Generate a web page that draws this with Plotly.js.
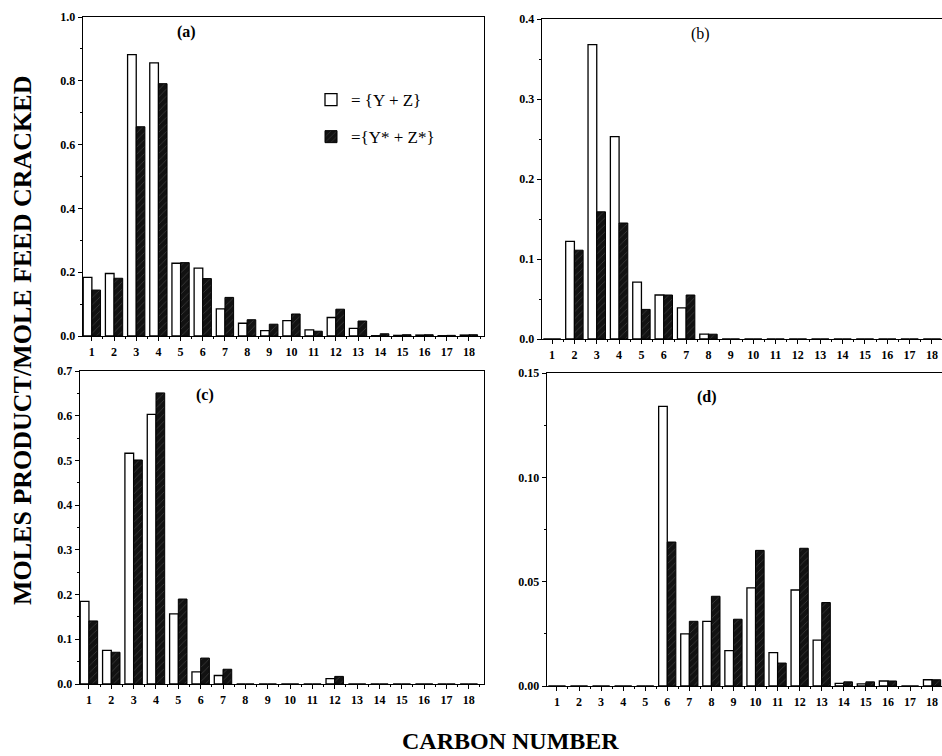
<!DOCTYPE html>
<html>
<head>
<meta charset="utf-8">
<script src="https://cdn.plot.ly/plotly-3.0.1.min.js"></script>
<style>
  html, body { margin: 0; padding: 0; background: #fff; }
  #chart { width: 942px; height: 756px; }
</style>
</head>
<body>
<div id="chart"></div>
<script>
// ---- Data ----
const carbonNumbers = [1,2,3,4,5,6,7,8,9,10,11,12,13,14,15,16,17,18];
const seriesNames = ['= {Y + Z}', '={Y* + Z*}'];

const aYZ     = [0.184,0.196,0.882,0.856,0.228,0.213,0.085,0.040,0.017,0.048,0.019,0.058,0.024,0.001,0.002,0.003,0.001,0.003];
const aYZstar = [0.144,0.181,0.656,0.791,0.230,0.180,0.121,0.051,0.037,0.069,0.015,0.084,0.047,0.007,0.004,0.004,0.002,0.004];

const bYZ     = [0,0.122,0.368,0.253,0.071,0.055,0.039,0.006,0,0,0,0,0,0,0,0,0,0];
const bYZstar = [0,0.111,0.159,0.145,0.037,0.055,0.055,0.006,0,0,0,0,0,0,0,0,0,0];

const cYZ     = [0.185,0.075,0.516,0.603,0.157,0.027,0.019,0,0,0,0,0.012,0,0,0,0,0,0];
const cYZstar = [0.141,0.071,0.501,0.651,0.190,0.058,0.033,0,0,0,0,0.017,0,0,0,0,0,0];

const dYZ     = [0,0,0,0,0,0.134,0.025,0.031,0.017,0.047,0.016,0.046,0.022,0.0013,0.001,0.0024,0,0.003];
const dYZstar = [0,0,0,0,0,0.069,0.031,0.043,0.032,0.065,0.011,0.066,0.040,0.002,0.002,0.0024,0,0.003];

const panelLabels = ['(a)', '(b)', '(c)', '(d)'];
const yTitle = 'MOLES PRODUCT/MOLE FEED CRACKED';
const xTitle = 'CARBON NUMBER';

// ---- Styling ----
const SERIF = 'Liberation Serif, Times New Roman, serif';
const W = 942, H = 756;

function whiteTrace(y, xa, ya, show) {
  return {
    type: 'bar', x: carbonNumbers, y: y, xaxis: xa, yaxis: ya,
    name: seriesNames[0], showlegend: show, legendgroup: 'g1',
    marker: { color: '#ffffff', line: { color: '#000', width: 1.3 } },
    hoverinfo: 'x+y'
  };
}
function darkTrace(y, xa, ya, show) {
  return {
    type: 'bar', x: carbonNumbers, y: y, xaxis: xa, yaxis: ya,
    name: seriesNames[1], showlegend: show, legendgroup: 'g2',
    marker: {
      color: '#111111',
      line: { color: '#000', width: 1 },
      pattern: { shape: '/', bgcolor: '#121212', fgcolor: '#4a4a4a', size: 5, solidity: 0.12 }
    },
    hoverinfo: 'x+y'
  };
}

const data = [
  whiteTrace(aYZ, 'x', 'y', true),   darkTrace(aYZstar, 'x', 'y', true),
  whiteTrace(bYZ, 'x2', 'y2', false), darkTrace(bYZstar, 'x2', 'y2', false),
  whiteTrace(cYZ, 'x3', 'y3', false), darkTrace(cYZstar, 'x3', 'y3', false),
  whiteTrace(dYZ, 'x4', 'y4', false), darkTrace(dYZstar, 'x4', 'y4', false)
];

const tickFont = { family: SERIF, size: 12, color: '#000', weight: 700 };

function xAxis(x0, x1, anchor, range) {
  return {
    domain: [x0 / W, x1 / W], anchor: anchor, range: range,
    tickmode: 'array', tickvals: carbonNumbers, ticktext: carbonNumbers.map(String),
    ticks: 'outside', ticklen: 4, tickwidth: 1, tickcolor: '#000',
    minor: { tickmode: 'linear', tick0: 0.5, dtick: 1, ticks: 'outside', ticklen: 2, tickcolor: '#000' },
    showline: true, linecolor: '#000', linewidth: 1.3, mirror: true,
    showgrid: false, zeroline: false, tickfont: tickFont, fixedrange: true
  };
}
function yAxis(yTop, yBot, anchor, range, dtick, fmt) {
  return {
    domain: [1 - yBot / H, 1 - yTop / H], anchor: anchor, range: range,
    tickmode: 'linear', tick0: 0, dtick: dtick, tickformat: fmt,
    ticks: 'outside', ticklen: 4, tickwidth: 1, tickcolor: '#000',
    minor: { dtick: dtick / 2, ticks: 'outside', ticklen: 2, tickcolor: '#000' },
    showline: true, linecolor: '#000', linewidth: 1.3, mirror: true,
    showgrid: false, zeroline: false, tickfont: tickFont, fixedrange: true
  };
}

function panelLabel(text, px, py, bold) {
  return {
    text: text, xref: 'paper', yref: 'paper', x: px / W, y: 1 - py / H,
    xanchor: 'center', yanchor: 'middle', showarrow: false,
    font: { family: SERIF, size: 16, color: '#000', weight: bold ? 700 : 400 }
  };
}

const layout = {
  width: W, height: H,
  margin: { l: 0, r: 0, t: 0, b: 0 },
  paper_bgcolor: '#fff', plot_bgcolor: '#fff',
  barmode: 'group', bargap: 0.22, bargroupgap: 0,
  showlegend: true,
  legend: {
    x: 311 / W, y: 1 - 82 / H, xanchor: 'left', yanchor: 'top',
    bgcolor: 'rgba(0,0,0,0)', borderwidth: 0,
    font: { family: SERIF, size: 17, color: '#000' },
    tracegroupgap: 12, traceorder: 'grouped', itemclick: false, itemdoubleclick: false
  },
  xaxis:  xAxis(83, 484, 'y',  [0.6, 18.68]),
  yaxis:  yAxis(17, 336, 'x',  [0, 1.0], 0.2, '.1f'),
  xaxis2: xAxis(542, 942, 'y2', [0.55, 18.45]),
  yaxis2: yAxis(19, 339, 'x2', [0, 0.4], 0.1, '.1f'),
  xaxis3: xAxis(80, 484, 'y3', [0.6, 18.68]),
  yaxis3: yAxis(371, 684, 'x3', [0, 0.7], 0.1, '.1f'),
  xaxis4: xAxis(547, 942, 'y4', [0.55, 18.45]),
  yaxis4: yAxis(373, 686, 'x4', [0, 0.15], 0.05, '.2f'),
  annotations: [
    panelLabel(panelLabels[0], 186, 32, true),
    panelLabel(panelLabels[1], 700, 34, false),
    panelLabel(panelLabels[2], 205, 395, true),
    panelLabel(panelLabels[3], 707, 397, true),
    {
      text: yTitle, xref: 'paper', yref: 'paper', x: 22 / W, y: 1 - 341 / H,
      xanchor: 'center', yanchor: 'middle', textangle: -90, showarrow: false,
      font: { family: SERIF, size: 26, color: '#000', weight: 700 }
    },
    {
      text: xTitle, xref: 'paper', yref: 'paper', x: 510 / W, y: 1 - 741 / H,
      xanchor: 'center', yanchor: 'middle', showarrow: false,
      font: { family: SERIF, size: 24, color: '#000', weight: 700 }
    }
  ]
};

Plotly.newPlot('chart', data, layout, { displayModeBar: false, staticPlot: true });
</script>
</body>
</html>
